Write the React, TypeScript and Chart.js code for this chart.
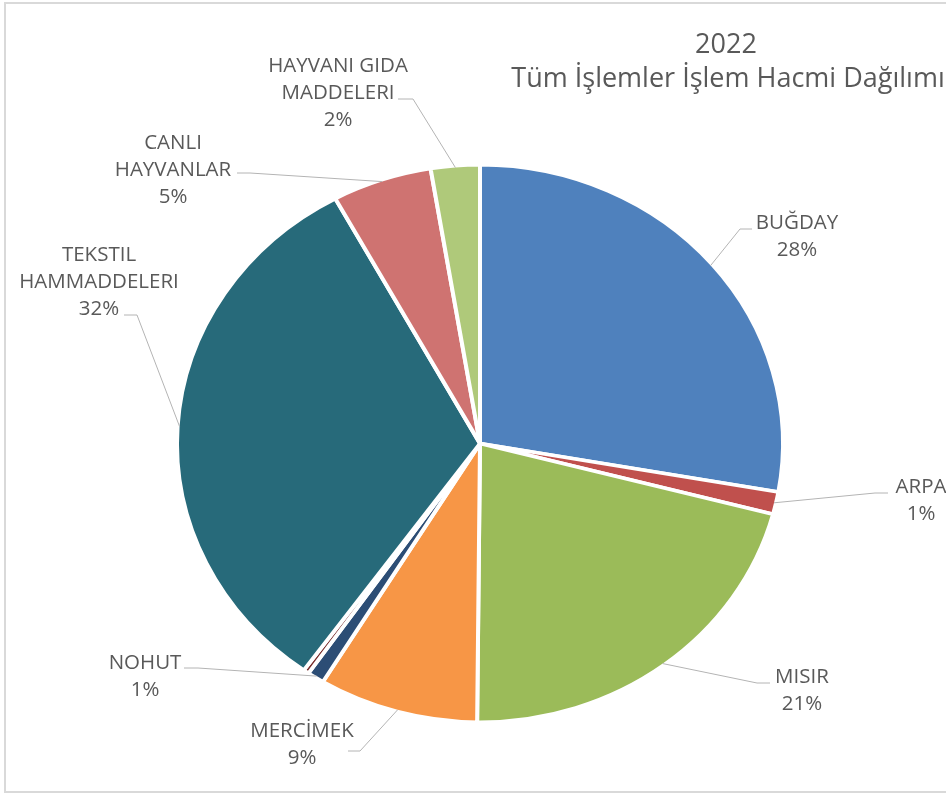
import React, { useEffect, useRef } from "react";
import { Chart, registerables } from "chart.js";

Chart.register(...registerables);

// ---- data ----
const categories = [
  "BUĞDAY",
  "ARPA",
  "MISIR",
  "MERCİMEK",
  "NOHUT",
  "DİĞER",
  "TEKSTIL HAMMADDELERI",
  "CANLI HAYVANLAR",
  "HAYVANI GIDA MADDELERI",
];
const shares = [27.7, 1.3, 21.0, 8.5, 0.9, 0.3, 32.1, 5.3, 2.6];
const percentLabels = ["28%", "1%", "21%", "9%", "1%", "", "32%", "5%", "2%"];
const labelLines = [
  ["BUĞDAY"],
  ["ARPA"],
  ["MISIR"],
  ["MERCİMEK"],
  ["NOHUT"],
  [],
  ["TEKSTIL", "HAMMADDELERI"],
  ["CANLI", "HAYVANLAR"],
  ["HAYVANI GIDA", "MADDELERI"],
];
const titleLines = ["2022", "Tüm İşlemler İşlem Hacmi Dağılımı"];

// ---- styles / layout ----
const sliceColors = [
  "#4F81BD",
  "#C0504D",
  "#9BBB59",
  "#F79646",
  "#2C4D75",
  "#772C2A",
  "#276A7A",
  "#CF7371",
  "#AFC97A",
];
const TEXT_COLOR = "#595959";
const LEADER_COLOR = "#B4B4B4";
const LABEL_FONT = '20.5px "Open Sans"';
const TITLE_FONT = '27px "Open Sans"';
const Y_SQUASH = 0.92;
const BORDER_W = 4;
const LINE_H = 27;

// label block centre x, first line centre y, leader start and elbow
const labelLayout: ({ cx: number; y: number; start: [number, number]; elbow: [number, number] } | null)[] = [
  { cx: 797, y: 223, start: [752, 229], elbow: [740, 229] },
  { cx: 921, y: 487, start: [888, 493], elbow: [875, 493] },
  { cx: 802, y: 677, start: [770, 683], elbow: [757, 683] },
  { cx: 302, y: 731, start: [348, 751], elbow: [360, 751] },
  { cx: 145, y: 663, start: [184, 668], elbow: [198, 668] },
  null,
  { cx: 99, y: 255, start: [124, 315], elbow: [137, 315] },
  { cx: 173, y: 143, start: [237, 173], elbow: [250, 173] },
  { cx: 338, y: 66, start: [398, 99], elbow: [413, 99] },
];

const ellipsePlugin = {
  id: "ellipse",
  beforeDatasetsDraw(chart: any) {
    const meta = chart.getDatasetMeta(0);
    const el = meta.data[0];
    if (!el) return;
    const ctx = chart.ctx;
    ctx.save();
    ctx.translate(el.x, el.y);
    ctx.scale(1, Y_SQUASH);
    ctx.translate(-el.x, -el.y);
  },
  afterDatasetsDraw(chart: any) {
    chart.ctx.restore();
  },
};

const overlayPlugin = {
  id: "overlay",
  afterDraw(chart: any) {
    const ctx = chart.ctx;
    ctx.save();
    // frame
    ctx.strokeStyle = "#D9D9D9";
    ctx.lineWidth = 2;
    ctx.beginPath();
    ctx.moveTo(960, 3);
    ctx.lineTo(5, 3);
    ctx.lineTo(5, 792);
    ctx.lineTo(960, 792);
    ctx.stroke();

    // title
    ctx.fillStyle = TEXT_COLOR;
    ctx.textAlign = "center";
    ctx.textBaseline = "middle";
    ctx.font = TITLE_FONT;
    ctx.fillText(titleLines[0], 726, 45);
    ctx.fillText(titleLines[1], 728, 79);

    // labels + leaders
    const meta = chart.getDatasetMeta(0);
    meta.data.forEach((arc: any, i: number) => {
      const lay = labelLayout[i];
      if (!lay) return;
      const a = (arc.startAngle + arc.endAngle) / 2;
      const r = arc.outerRadius - BORDER_W / 2;
      const ex = arc.x + r * Math.cos(a);
      const ey = arc.y + r * Math.sin(a) * Y_SQUASH;
      ctx.strokeStyle = LEADER_COLOR;
      ctx.lineWidth = 1;
      ctx.beginPath();
      ctx.moveTo(lay.start[0], lay.start[1]);
      ctx.lineTo(lay.elbow[0], lay.elbow[1]);
      ctx.lineTo(ex, ey);
      ctx.stroke();

      ctx.fillStyle = TEXT_COLOR;
      ctx.font = LABEL_FONT;
      const lines = [...labelLines[i], percentLabels[i]];
      lines.forEach((t, k) => ctx.fillText(t, lay.cx, lay.y + k * LINE_H));
    });
    ctx.restore();
  },
};

export default function App() {
  const ref = useRef<HTMLCanvasElement | null>(null);
  useEffect(() => {
    let chart: Chart | null = null;
    let cancelled = false;
    const make = () => {
      if (cancelled || !ref.current) return;
      chart = new Chart(ref.current, {
        type: "pie",
        data: {
          labels: categories,
          datasets: [
            {
              data: shares,
              backgroundColor: sliceColors,
              borderColor: "#FFFFFF",
              borderWidth: BORDER_W,
            },
          ],
        },
        options: {
          responsive: false,
          animation: false,
          devicePixelRatio: 1,
          radius: 303,
          layout: { padding: { left: 100, right: 86, top: 100, bottom: 9 } },
          plugins: {
            legend: { display: false },
            tooltip: { enabled: false },
            title: { display: false },
          },
        } as any,
        plugins: [ellipsePlugin, overlayPlugin],
      });
    };
    const fonts = (document as any).fonts;
    if (fonts && fonts.load) {
      Promise.all([fonts.load(LABEL_FONT), fonts.load(TITLE_FONT)]).then(make, make);
    } else make();
    return () => {
      cancelled = true;
      if (chart) chart.destroy();
    };
  }, []);
  return (
    <div style={{ position: "fixed", left: 0, top: 0, width: 946, height: 796, background: "#fff" }}>
      <canvas ref={ref} width={946} height={796} style={{ display: "block" }} />
    </div>
  );
}
